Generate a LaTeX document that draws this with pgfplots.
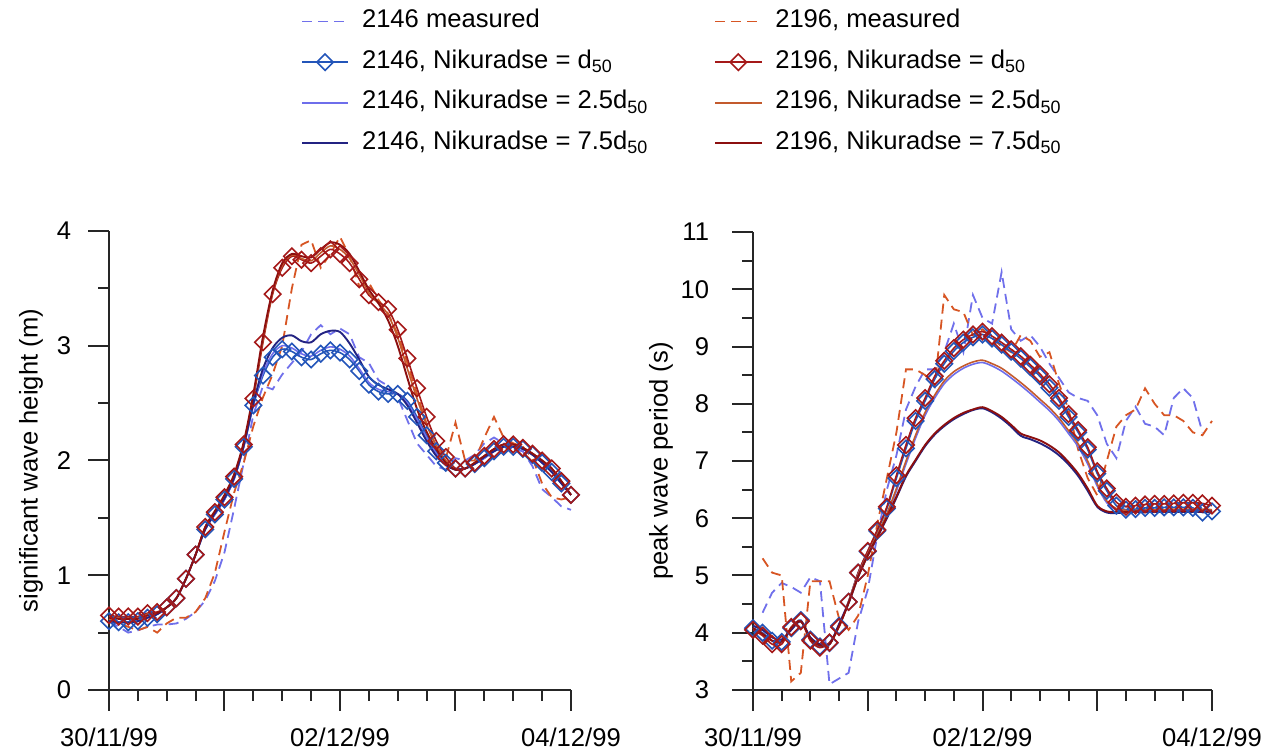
\documentclass[border=0pt]{standalone}
\usepackage{fontspec}
\setmainfont{Liberation Sans}
\usepackage{pgfplots}
\pgfplotsset{compat=1.18}
\definecolor{cmA}{RGB}{112,112,235}
\definecolor{cdA}{RGB}{35,85,185}
\definecolor{caA}{RGB}{110,110,235}
\definecolor{cbA}{RGB}{35,35,130}
\definecolor{cmB}{RGB}{215,85,35}
\definecolor{cdB}{RGB}{165,25,25}
\definecolor{caB}{RGB}{195,90,45}
\definecolor{cbB}{RGB}{140,15,15}
\pgfplotsset{
 common/.style={
  scale only axis, anchor=south west, axis lines=left,
  axis line style={-, line width=1pt, black!85},
  clip=false, tick align=outside, major tick length=10.5pt, minor tick length=5.5pt,
  tick style={black!85, line width=1pt},
  xmin=0, xmax=96,
  xtick={0,24,48,72,96}, xticklabels={30/11/99,,02/12/99,,04/12/99},
  minor x tick num=3, minor y tick num=1,
  xticklabel style={anchor=base, yshift=-18pt},
  yticklabel style={anchor=east, xshift=-4pt},
  /pgf/number format/assume math mode=true,
  legend image code/.code={\draw[mark repeat=2,mark phase=2,##1] plot coordinates {(0pt,0pt) (11.5pt,0pt) (23pt,0pt)};},
 },
 sm/.style={dash pattern=on 5pt off 3pt, line width=0.9pt, no markers},
 sd/.style={line width=0.8pt, mark=square, mark size=2.9pt, mark options={rotate=45, solid, line width=0.8pt}},
 sa/.style={line width=0.8pt, no markers},
 sb/.style={line width=0.95pt, no markers},
}
\begin{document}
\fontsize{12.8}{15.4}\selectfont
\begin{tikzpicture}
\path[use as bounding box] (0,0) rectangle (635pt,376.5pt);
\begin{axis}[common, at={(54.5pt,31.5pt)}, width=231pt, height=229.5pt,
  ymin=0, ymax=4, ytick={0,1,2,3,4},
  ylabel={significant wave height (m)},
  every axis y label/.style={at={(axis description cs:0,0.5)}, xshift=-39pt, rotate=90, anchor=center},
  legend columns=2, legend cell align=left,
  legend style={draw=none, fill=none, at={(axis description cs:0.415,1.4854)}, anchor=north west,
    inner sep=0pt, row sep=7.3pt, nodes={inner sep=0pt, text height=9.5pt, text depth=3.5pt},
    /tikz/every odd column/.style={column sep=6.5pt}, /tikz/column 2/.style={column sep=33pt}},
]
\addplot[sm, cmA] coordinates {(0,0.60)(2,0.55)(4,0.50)(6,0.52)(8,0.55)(10,0.57)(12,0.57)(14,0.58)(16,0.62)(18,0.68)(20,0.78)(22,0.95)(24,1.20)(26,1.58)(28,1.98)(30,2.40)(32,2.65)(34,2.62)(36,2.75)(38,2.85)(40,2.95)(42,3.10)(44,3.18)(46,3.10)(48,3.15)(50,3.10)(52,2.90)(54,2.85)(56,2.70)(58,2.65)(60,2.55)(62,2.35)(64,2.15)(66,2.05)(68,1.95)(70,1.92)(72,2.02)(74,2.00)(76,2.05)(78,2.15)(80,2.20)(82,2.15)(84,2.10)(86,2.08)(88,1.95)(90,1.75)(92,1.68)(94,1.60)(96,1.57)};
\addlegendentry{2146 measured}
\addplot[sm, cmB] coordinates {(0,0.62)(2,0.58)(4,0.55)(6,0.52)(8,0.55)(10,0.50)(12,0.58)(14,0.63)(16,0.63)(18,0.68)(20,0.80)(22,1.02)(24,1.38)(26,1.72)(28,1.98)(30,2.30)(32,2.55)(34,2.75)(36,3.00)(38,3.50)(40,3.88)(42,3.92)(44,3.68)(46,3.80)(48,3.95)(50,3.78)(52,3.52)(54,3.55)(56,3.40)(58,3.28)(60,3.10)(62,2.85)(64,2.58)(66,2.32)(68,2.12)(70,2.02)(72,2.33)(74,2.00)(76,2.00)(78,2.20)(80,2.38)(82,2.20)(84,2.15)(86,2.12)(88,2.02)(90,1.80)(92,1.68)(94,1.66)(96,1.68)};
\addlegendentry{2196, measured}
\addplot[sd, cdA, smooth] coordinates {(0,0.60)(2,0.59)(4,0.59)(6,0.60)(8,0.63)(10,0.66)(12,0.72)(14,0.80)(16,0.97)(18,1.18)(20,1.40)(22,1.53)(24,1.66)(26,1.84)(28,2.12)(30,2.48)(32,2.74)(34,2.90)(36,2.97)(38,2.95)(40,2.90)(42,2.88)(44,2.93)(46,2.96)(48,2.94)(50,2.88)(52,2.78)(54,2.66)(56,2.60)(58,2.58)(60,2.58)(62,2.52)(64,2.38)(66,2.22)(68,2.08)(70,1.98)(72,1.93)(74,1.93)(76,1.97)(78,2.02)(80,2.08)(82,2.12)(84,2.12)(86,2.10)(88,2.05)(90,1.98)(92,1.90)(94,1.80)(96,1.70)};
\addlegendentry{2146, Nikuradse = d\textsubscript{50}}
\addplot[sd, cdB, smooth] coordinates {(0,0.65)(2,0.64)(4,0.64)(6,0.64)(8,0.67)(10,0.68)(12,0.72)(14,0.80)(16,0.97)(18,1.18)(20,1.42)(22,1.55)(24,1.68)(26,1.86)(28,2.14)(30,2.54)(32,3.03)(34,3.45)(36,3.68)(38,3.78)(40,3.75)(42,3.72)(44,3.78)(46,3.84)(48,3.80)(50,3.72)(52,3.58)(54,3.44)(56,3.38)(58,3.32)(60,3.14)(62,2.89)(64,2.63)(66,2.38)(68,2.17)(70,2.03)(72,1.93)(74,1.93)(76,1.98)(78,2.04)(80,2.10)(82,2.14)(84,2.14)(86,2.11)(88,2.06)(90,2.00)(92,1.93)(94,1.82)(96,1.70)};
\addlegendentry{2196, Nikuradse = d\textsubscript{50}}
\addplot[sa, caA, smooth] coordinates {(0,0.60)(2,0.59)(4,0.59)(6,0.60)(8,0.63)(10,0.66)(12,0.72)(14,0.80)(16,0.97)(18,1.18)(20,1.40)(22,1.53)(24,1.66)(26,1.84)(28,2.12)(30,2.49)(32,2.76)(34,2.93)(36,3.00)(38,2.98)(40,2.93)(42,2.91)(44,2.96)(46,2.99)(48,2.97)(50,2.91)(52,2.80)(54,2.68)(56,2.62)(58,2.60)(60,2.58)(62,2.50)(64,2.36)(66,2.20)(68,2.06)(70,1.97)(72,1.92)(74,1.93)(76,1.97)(78,2.02)(80,2.08)(82,2.12)(84,2.12)(86,2.10)(88,2.05)(90,1.98)(92,1.90)(94,1.80)(96,1.70)};
\addlegendentry{2146, Nikuradse = 2.5d\textsubscript{50}}
\addplot[sa, caB, smooth] coordinates {(0,0.64)(2,0.63)(4,0.63)(6,0.63)(8,0.66)(10,0.67)(12,0.72)(14,0.80)(16,0.97)(18,1.18)(20,1.42)(22,1.55)(24,1.69)(26,1.87)(28,2.15)(30,2.56)(32,3.05)(34,3.46)(36,3.70)(38,3.79)(40,3.76)(42,3.74)(44,3.81)(46,3.87)(48,3.84)(50,3.76)(52,3.62)(54,3.46)(56,3.37)(58,3.27)(60,3.07)(62,2.80)(64,2.54)(66,2.31)(68,2.13)(70,2.00)(72,1.92)(74,1.93)(76,1.98)(78,2.04)(80,2.10)(82,2.14)(84,2.14)(86,2.11)(88,2.06)(90,2.00)(92,1.93)(94,1.82)(96,1.70)};
\addlegendentry{2196, Nikuradse = 2.5d\textsubscript{50}}
\addplot[sb, cbA, smooth] coordinates {(0,0.60)(2,0.59)(4,0.59)(6,0.60)(8,0.63)(10,0.66)(12,0.72)(14,0.80)(16,0.97)(18,1.18)(20,1.40)(22,1.54)(24,1.67)(26,1.85)(28,2.13)(30,2.50)(32,2.80)(34,2.98)(36,3.07)(38,3.09)(40,3.04)(42,3.03)(44,3.10)(46,3.13)(48,3.12)(50,3.02)(52,2.88)(54,2.73)(56,2.66)(58,2.62)(60,2.58)(62,2.48)(64,2.33)(66,2.17)(68,2.04)(70,1.96)(72,1.92)(74,1.93)(76,1.97)(78,2.03)(80,2.08)(82,2.12)(84,2.12)(86,2.10)(88,2.05)(90,1.98)(92,1.90)(94,1.80)(96,1.70)};
\addlegendentry{2146, Nikuradse = 7.5d\textsubscript{50}}
\addplot[sb, cbB, smooth] coordinates {(0,0.63)(2,0.62)(4,0.62)(6,0.62)(8,0.65)(10,0.67)(12,0.72)(14,0.80)(16,0.97)(18,1.18)(20,1.42)(22,1.56)(24,1.70)(26,1.88)(28,2.16)(30,2.58)(32,3.08)(34,3.48)(36,3.72)(38,3.80)(40,3.78)(42,3.77)(44,3.84)(46,3.90)(48,3.88)(50,3.80)(52,3.65)(54,3.49)(56,3.37)(58,3.22)(60,3.00)(62,2.72)(64,2.45)(66,2.25)(68,2.10)(70,1.98)(72,1.92)(74,1.93)(76,1.98)(78,2.04)(80,2.10)(82,2.14)(84,2.14)(86,2.11)(88,2.06)(90,2.00)(92,1.93)(94,1.82)(96,1.70)};
\addlegendentry{2196, Nikuradse = 7.5d\textsubscript{50}}
\end{axis}
\begin{axis}[common, at={(376.5pt,31.5pt)}, width=229.5pt, height=229pt,
  ymin=3, ymax=11, ytick={3,4,5,6,7,8,9,10,11},
  yticklabel style={anchor=east, xshift=-3pt},
  ylabel={peak wave period (s)},
  every axis y label/.style={at={(axis description cs:0,0.5)}, xshift=-46pt, rotate=90, anchor=center},
]
\addplot[sm, cmA] coordinates {(2,4.35)(4,4.70)(6,4.87)(8,4.80)(10,4.70)(12,4.97)(14,4.90)(16,3.10)(18,3.20)(20,3.30)(22,4.20)(24,4.75)(26,5.70)(28,6.50)(30,7.10)(32,7.90)(34,8.30)(36,8.60)(38,8.60)(40,8.90)(42,9.40)(44,8.90)(46,9.90)(48,9.50)(50,9.40)(52,10.30)(54,9.30)(56,9.10)(58,9.20)(60,9.00)(62,8.70)(64,8.45)(66,8.20)(68,8.10)(70,8.05)(72,7.80)(74,7.30)(76,7.05)(78,7.70)(80,7.95)(82,7.65)(84,7.60)(86,7.45)(88,8.10)(90,8.27)(92,8.10)(94,7.50)};
\addplot[sm, cmB] coordinates {(2,5.30)(4,5.05)(6,5.00)(8,3.15)(10,3.30)(12,4.90)(14,4.90)(16,4.90)(18,4.25)(20,4.05)(22,4.30)(24,5.00)(26,5.90)(28,6.70)(30,7.50)(32,8.60)(34,8.60)(36,8.50)(38,8.30)(40,9.90)(42,9.65)(44,9.60)(46,9.20)(48,9.30)(50,9.15)(52,9.00)(54,8.90)(56,9.20)(58,9.10)(60,8.82)(62,8.90)(64,8.35)(66,7.90)(68,7.20)(70,6.70)(72,6.40)(74,7.00)(76,7.60)(78,7.80)(80,7.90)(82,8.27)(84,8.00)(86,7.80)(88,7.80)(90,7.70)(92,7.50)(94,7.45)(96,7.70)};
\addplot[sd, cdA, smooth] coordinates {(0,4.08)(2,4.00)(4,3.86)(6,3.84)(8,4.08)(10,4.22)(12,3.88)(14,3.76)(16,3.82)(18,4.12)(20,4.54)(22,5.05)(24,5.42)(26,5.78)(28,6.17)(30,6.70)(32,7.22)(34,7.70)(36,8.05)(38,8.43)(40,8.70)(42,8.92)(44,9.07)(46,9.16)(48,9.21)(50,9.14)(52,9.03)(54,8.91)(56,8.79)(58,8.64)(60,8.48)(62,8.28)(64,8.05)(66,7.77)(68,7.50)(70,7.20)(72,6.78)(74,6.48)(76,6.22)(78,6.15)(80,6.16)(82,6.18)(84,6.18)(86,6.19)(88,6.19)(90,6.19)(92,6.18)(94,6.10)(96,6.12)};
\addplot[sd, cdB, smooth] coordinates {(0,4.05)(2,3.95)(4,3.80)(6,3.80)(8,4.10)(10,4.20)(12,3.86)(14,3.74)(16,3.83)(18,4.10)(20,4.54)(22,5.05)(24,5.43)(26,5.80)(28,6.20)(30,6.75)(32,7.28)(34,7.75)(36,8.10)(38,8.48)(40,8.75)(42,8.97)(44,9.12)(46,9.21)(48,9.26)(50,9.18)(52,9.07)(54,8.95)(56,8.83)(58,8.68)(60,8.52)(62,8.34)(64,8.10)(66,7.82)(68,7.54)(70,7.24)(72,6.82)(74,6.52)(76,6.28)(78,6.20)(80,6.22)(82,6.24)(84,6.25)(86,6.25)(88,6.26)(90,6.27)(92,6.27)(94,6.26)(96,6.22)};
\addplot[sa, caA, smooth] coordinates {(0,4.12)(2,4.05)(4,3.92)(6,3.88)(8,4.05)(10,4.20)(12,3.92)(14,3.80)(16,3.80)(18,4.15)(20,4.55)(22,5.02)(24,5.37)(26,5.70)(28,6.05)(30,6.48)(32,6.95)(34,7.40)(36,7.80)(38,8.10)(40,8.35)(42,8.51)(44,8.62)(46,8.69)(48,8.72)(50,8.66)(52,8.57)(54,8.45)(56,8.32)(58,8.18)(60,8.03)(62,7.88)(64,7.70)(66,7.48)(68,7.25)(70,6.95)(72,6.56)(74,6.27)(76,6.15)(78,6.13)(80,6.13)(82,6.13)(84,6.13)(86,6.13)(88,6.13)(90,6.13)(92,6.13)(94,6.13)(96,6.13)};
\addplot[sa, caB, smooth] coordinates {(0,4.08)(2,3.98)(4,3.86)(6,3.85)(8,4.08)(10,4.20)(12,3.90)(14,3.78)(16,3.80)(18,4.12)(20,4.55)(22,5.02)(24,5.38)(26,5.72)(28,6.08)(30,6.52)(32,7.00)(34,7.45)(36,7.85)(38,8.15)(40,8.40)(42,8.56)(44,8.66)(46,8.73)(48,8.76)(50,8.70)(52,8.62)(54,8.50)(56,8.37)(58,8.23)(60,8.08)(62,7.93)(64,7.75)(66,7.53)(68,7.30)(70,7.00)(72,6.60)(74,6.30)(76,6.17)(78,6.14)(80,6.14)(82,6.15)(84,6.15)(86,6.15)(88,6.16)(90,6.16)(92,6.16)(94,6.16)(96,6.15)};
\addplot[sb, cbA, smooth] coordinates {(0,4.12)(2,4.05)(4,3.92)(6,3.88)(8,4.05)(10,4.20)(12,3.92)(14,3.80)(16,3.80)(18,4.15)(20,4.52)(22,4.98)(24,5.35)(26,5.67)(28,6.00)(30,6.36)(32,6.73)(34,7.00)(36,7.26)(38,7.46)(40,7.61)(42,7.73)(44,7.82)(46,7.89)(48,7.92)(50,7.85)(52,7.74)(54,7.60)(56,7.44)(58,7.38)(60,7.31)(62,7.22)(64,7.10)(66,6.94)(68,6.74)(70,6.48)(72,6.20)(74,6.10)(76,6.09)(78,6.10)(80,6.11)(82,6.11)(84,6.11)(86,6.11)(88,6.11)(90,6.11)(92,6.11)(94,6.11)(96,6.11)};
\addplot[sb, cbB, smooth] coordinates {(0,4.08)(2,3.98)(4,3.86)(6,3.85)(8,4.08)(10,4.20)(12,3.90)(14,3.78)(16,3.80)(18,4.12)(20,4.52)(22,4.98)(24,5.35)(26,5.68)(28,6.02)(30,6.38)(32,6.75)(34,7.02)(36,7.28)(38,7.48)(40,7.63)(42,7.75)(44,7.84)(46,7.90)(48,7.94)(50,7.87)(52,7.77)(54,7.63)(56,7.48)(58,7.42)(60,7.36)(62,7.27)(64,7.15)(66,6.98)(68,6.78)(70,6.52)(72,6.22)(74,6.12)(76,6.11)(78,6.11)(80,6.12)(82,6.12)(84,6.12)(86,6.12)(88,6.12)(90,6.12)(92,6.12)(94,6.12)(96,6.12)};
\end{axis}
\end{tikzpicture}
\end{document}
